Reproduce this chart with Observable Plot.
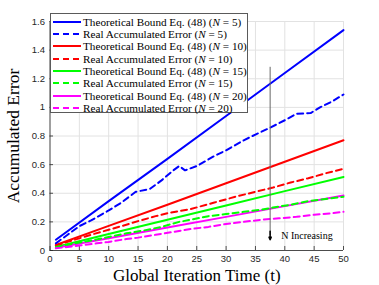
<!DOCTYPE html>
<html>
<head>
<meta charset="utf-8">
<script src="https://cdn.jsdelivr.net/npm/d3@7"></script>
<script src="https://cdn.jsdelivr.net/npm/@observablehq/plot@0.6"></script>
<style>
  body { margin: 0; background: white; }
  #wrap { position: relative; width: 379px; height: 285px; }
  #legend { position: absolute; left: 50px; top: 13px; width: 198px; height: 100px;
    border: 1px solid #5a5a5a; background: white; box-sizing: border-box;
    font-family: "Liberation Serif", "Times New Roman", serif; font-size: 11.2px; color: #000; }
  .row { position: absolute; left: 0; height: 12px; display: flex; align-items: center; white-space: nowrap; }
  .row svg { margin-left: 2px; margin-right: 2px; }
</style>
</head>
<body>
<div id="wrap"></div>
<script>
// ---- data ----
const Ns = [5, 10, 15, 20];
const colors = ["#0000ff", "#ff0000", "#00ff00", "#ff00ff"];

// Theoretical bounds (solid)
const boundT = [1, 10, 20, 30, 40, 50];
const bound5  = [0.075, 0.345, 0.64, 0.94, 1.24, 1.54];
const bound10 = [0.038, 0.172, 0.32, 0.47, 0.62, 0.77];
const bound15 = [0.025, 0.115, 0.215, 0.315, 0.415, 0.513];
const bound20 = [0.019, 0.086, 0.16, 0.235, 0.31, 0.385];

// Real accumulated errors (dashed)
const real5T = [1, 3, 5, 7, 10, 12, 14.6, 17, 19, 21, 22, 23, 25, 28, 30, 33, 35, 37.6, 40, 42, 44.4, 46, 48, 50];
const real5  = [0.05, 0.11, 0.17, 0.21, 0.28, 0.33, 0.41, 0.43, 0.49, 0.56, 0.59, 0.56, 0.59, 0.66, 0.70, 0.77, 0.81, 0.86, 0.91, 0.955, 0.96, 1.0, 1.04, 1.09];
const real10T = [1, 3, 5, 7, 10, 13, 15, 18, 20, 24, 28, 32, 35, 38, 41, 44, 47, 50];
const real10  = [0.035, 0.06, 0.085, 0.11, 0.145, 0.18, 0.205, 0.24, 0.26, 0.29, 0.335, 0.38, 0.41, 0.44, 0.475, 0.505, 0.54, 0.57];
const real15T = [1, 3, 5, 7, 10, 13, 16, 19, 22, 24, 27, 30, 33, 36, 38, 41, 44, 47, 50];
const real15  = [0.025, 0.04, 0.055, 0.07, 0.095, 0.12, 0.14, 0.165, 0.2, 0.215, 0.24, 0.255, 0.27, 0.285, 0.30, 0.32, 0.345, 0.36, 0.375];
const real20T = [1, 3, 5, 8, 10, 13, 15, 18, 21, 24, 27, 30, 33, 36, 39, 42, 45, 48, 50];
const real20  = [0.015, 0.025, 0.035, 0.05, 0.06, 0.08, 0.09, 0.11, 0.13, 0.15, 0.165, 0.185, 0.2, 0.215, 0.225, 0.235, 0.25, 0.26, 0.27];

const xTicks = [0, 5, 10, 15, 20, 25, 30, 35, 40, 45, 50];
const yTicks = [0, 0.2, 0.4, 0.6, 0.8, 1, 1.2, 1.4, 1.6];

// annotation
const arrowX = [37.5];
const arrowTop = 1.28, arrowBottom = 0.075;
const annText = [{x: 39.4, y: 0.1, text: "N Increasing"}];

// ---- build ----
const bounds = [bound5, bound10, bound15, bound20];
const reals = [[real5T, real5], [real10T, real10], [real15T, real15], [real20T, real20]];
const solidData = [], dashData = [];
Ns.forEach((N, i) => {
  boundT.forEach((t, j) => solidData.push({N, t, v: bounds[i][j]}));
  reals[i][0].forEach((t, j) => dashData.push({N, t, v: reals[i][1][j]}));
});
const colorOf = N => colors[Ns.indexOf(N)];
const serif = "Liberation Serif, Times New Roman, serif";

const marks = [
  Plot.gridX(xTicks, {stroke: "#e2e2e2", strokeOpacity: 1}),
  Plot.gridY(yTicks, {stroke: "#e2e2e2", strokeOpacity: 1}),
  Plot.ruleY([0], {stroke: "#262626", strokeWidth: 0.8}),
  Plot.ruleX([0], {stroke: "#262626", strokeWidth: 0.8}),
  Plot.ruleX(xTicks, {x: d => d, y1: 0, y2: 0.028, stroke: "#262626", strokeWidth: 0.8}),
  Plot.ruleY(yTicks, {y: d => d, x1: 0, x2: 0.6, stroke: "#262626", strokeWidth: 0.8}),
  Plot.axisX(xTicks, {tickSize: 0, tickPadding: 5, tickFormat: d => d, label: null, fontSize: 9.5}),
  Plot.axisY(yTicks, {tickSize: 0, tickPadding: 5, tickFormat: d => d, label: null, fontSize: 9.5}),
  ...Ns.map(N => Plot.line(solidData.filter(d => d.N === N), {x: "t", y: "v", stroke: colorOf(N), strokeWidth: 2})),
  ...Ns.map(N => Plot.line(dashData.filter(d => d.N === N), {x: "t", y: "v", stroke: colorOf(N), strokeWidth: 2, strokeDasharray: "6,4"})),
  Plot.ruleX(arrowX, {x: d => d, y1: arrowTop, y2: arrowBottom + 0.03, stroke: "#666", strokeWidth: 1}),
  Plot.arrow(arrowX, {x1: d => d, x2: d => d, y1: arrowBottom + 0.06, y2: arrowBottom, stroke: "#000", strokeWidth: 1.5, headLength: 9, headAngle: 45}),
  Plot.text(annText, {x: "x", y: "y", text: "text", textAnchor: "start", fontFamily: serif, fontSize: 10, fill: "#000"}),
  Plot.text(["Accumulated Error"], {frameAnchor: "left", textAnchor: "middle", lineAnchor: "middle", rotate: -90, dx: -37, fontFamily: serif, fontSize: 17.5, fill: "#000"}),
  Plot.text(["Global Iteration Time (t)"], {frameAnchor: "bottom", textAnchor: "middle", lineAnchor: "middle", dy: 25, fontFamily: serif, fontSize: 17, fill: "#000"})
];

const chart = Plot.plot({
  width: 379, height: 285,
  marginLeft: 49.5, marginRight: 36, marginTop: 21, marginBottom: 35,
  x: {domain: [0, 50]},
  y: {domain: [0, 1.6]},
  style: {fontFamily: "Liberation Sans, Arial, sans-serif", fontSize: "9.5px", color: "#262626", background: "white", overflow: "visible"},
  marks
});
const wrap = document.getElementById("wrap");
wrap.appendChild(chart);

// legend
const legend = document.createElement("div");
legend.id = "legend";
let row = 0;
Ns.forEach((N, i) => {
  [["Theoretical Bound Eq. (48)", null], ["Real Accumulated Error", "6,4"]].forEach(([lab, dash]) => {
    const r = document.createElement("div");
    r.className = "row";
    r.style.top = (1.7 + row * 12.3) + "px";
    r.innerHTML = `<svg width="28" height="6"><line x1="0" x2="28" y1="3" y2="3" stroke="${colors[i]}" stroke-width="2" ${dash ? `stroke-dasharray="${dash}"` : ""}/></svg><span>${lab} (<i>N</i> = ${N})</span>`;
    legend.appendChild(r);
    row++;
  });
});
wrap.appendChild(legend);
</script>
</body>
</html>
